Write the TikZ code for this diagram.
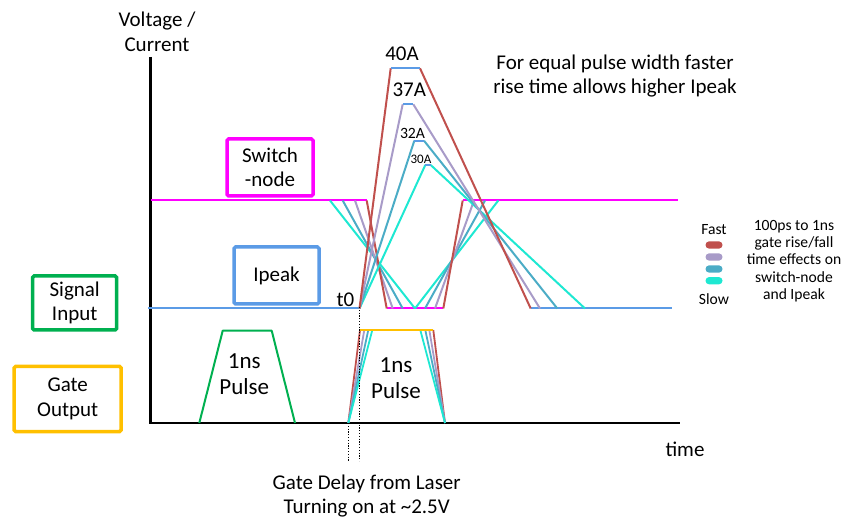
\documentclass[tikz,border=0pt]{standalone}
\usepackage{fontspec}
\setmainfont{Carlito}
\definecolor{cred}{HTML}{C0504D}
\definecolor{cpurp}{HTML}{A89BC8}
\definecolor{csteel}{HTML}{4BACC6}
\definecolor{ccyan}{HTML}{1EE8D2}
\definecolor{cmag}{HTML}{FF00FF}
\definecolor{cblue}{HTML}{5B9BE6}
\definecolor{cgreen}{HTML}{00B050}
\definecolor{corange}{HTML}{FFC000}
\tikzset{
  wave/.style={line width=2pt, line join=round},
  gwave/.style={line width=1.8pt, line join=round},
  axisline/.style={line width=2.2pt, black},
  lbl/.style={font=\fontsize{21}{24.5}\selectfont, align=center, inner sep=0pt},
  biglbl/.style={font=\fontsize{23}{26}\selectfont, align=center, inner sep=0pt},
  smlbl/.style={font=\fontsize{15.6}{17.4}\selectfont, align=center, inner sep=0pt},
  tagbox/.style={draw, line width=3.5pt, rounded corners=1.5pt, font=\fontsize{21}{24.5}\selectfont, align=center, inner sep=0pt, fill=white},
  pill/.style={fill, rounded corners=3.6pt, minimum width=17pt, minimum height=7.3pt, inner sep=0pt},
  delayline/.style={line width=1pt, dash pattern=on 1.2pt off 1.6pt}
}
\begin{document}
\begin{tikzpicture}[x=1pt,y=-1pt]
\useasboundingbox (0,0) rectangle (843,518);

% axes
\coordinate (ytop) at (150.5,57);
\coordinate (orig) at (150.5,423);
\coordinate (xend) at (680,423);
\draw[axisline] (ytop) -- (orig) -- (xend);

% key points
\coordinate (t0pt) at (359.5,308.5);
\coordinate (gbl) at (348.3,423);
\coordinate (gbr) at (445,423);

% signal input pulse (green)
\draw[wave,cgreen] (199.3,423) -- (222.7,330.7) -- (271.7,330.7) -- (295,423);

% switch-node waveform (magenta)
\draw[wave,cmag] (150.5,200.5) -- (366.7,200.5);
\draw[wave,cmag] (386.7,308.5) -- (443.3,308.5);
\draw[wave,cmag] (462.7,200.5) -- (677.7,200.5);

% Ipeak baseline (blue)
\draw[wave,cblue] (148,308.5) -- (t0pt);
\draw[wave,cblue] (530.7,308.5) -- (672.3,308.5);

% switch-node transitions
\foreach \c/\fa/\fb/\ra/\rb in {ccyan/330/415/415/498.3, csteel/342.7/402.7/425/485, cpurp/355/392.7/435/474, cred/366.7/386.7/443.3/462.7}{
  \draw[wave,\c] (\fa,200.5) -- (\fb,308.5);
  \draw[wave,\c] (\ra,308.5) -- (\rb,200.5);
}

% current traces
\foreach \c/\pa/\pb/\py/\pe in {ccyan/425.3/430.7/165/585, csteel/414.3/424/140.7/557.3, cpurp/402.7/413.3/104.3/540, cred/390.7/420/68.3/530.7}{
  \draw[wave,\c] (t0pt) -- (\pa,\py);
  \draw[wave,\c] (\pb,\py) -- (\pe,308.5);
}
\foreach \pa/\pb/\py in {425.3/430.7/165, 414.3/424/140.7, 402.7/413.3/104.3, 390.7/420/68.3}{
  \draw[wave,cblue] (\pa,\py) -- (\pb,\py);
}

% gate output pulse
\foreach \c/\lt/\rt in {cred/360/433.3, cpurp/364.3/429.3, csteel/368.3/425.3, ccyan/372.3/420.3}{
  \draw[gwave,\c] (gbl) -- (\lt,330);
  \draw[gwave,\c] (\rt,330) -- (gbr);
}
\draw[line width=2.4pt,corange] (360,330) -- (433.3,330);

% gate delay markers
\coordinate (d1) at (348.3,461);
\coordinate (d2) at (359.5,461);
\draw[delayline] (gbl) -- (d1);
\draw[delayline] ([yshift=1.5pt]t0pt) -- (d2);

% labels
\node[lbl] (vc) at (157,32) {Voltage /\\Current};
\node[tagbox, draw=cmag, minimum width=86pt, minimum height=57pt] (sw) at (270,167.5) {Switch\\-node};
\node[tagbox, draw=cblue, minimum width=85pt, minimum height=57pt] (ip) at (276.5,275.5) {Ipeak};
\node[tagbox, draw=cgreen, minimum width=84pt, minimum height=54pt] (si) at (74.7,303) {Signal\\Input};
\node[tagbox, draw=corange, minimum width=107pt, minimum height=65pt] (go) at (67.7,399) {Gate\\Output};

\node[biglbl] (p1) at (244.3,374) {1ns\\Pulse};
\node[biglbl] (p2) at (396,378) {1ns\\Pulse};
\node[lbl] (t0) at (345.5,300) {t0};

\node[lbl] (l40) at (402,54) {40A};
\node[lbl] (l37) at (409.3,90) {37A};
\node[font=\fontsize{15.7}{17}\selectfont, inner sep=0pt] (l32) at (412.5,133.5) {32A};
\node[font=\fontsize{13}{15}\selectfont, inner sep=0pt] (l30) at (421,159.5) {30A};

\node[lbl] (ft) at (615,76) {For equal pulse width faster\\rise time allows higher Ipeak};
\node[lbl] (tm) at (685,449) {time};
\node[lbl] (gd) at (366.7,496) {Gate Delay from Laser\\Turning on at \textasciitilde2.5V};

% legend
\node[smlbl] (fast) at (714,230) {Fast};
\node[pill, cred] (k1) at (714,245) {};
\node[pill, cpurp] (k2) at (714,257) {};
\node[pill, csteel] (k3) at (714,269) {};
\node[pill, ccyan] (k4) at (714,280.7) {};
\node[smlbl] (slow) at (714,299) {Slow};
\node[smlbl] (lg) at (794,261) {100ps to 1ns\\gate rise/fall\\time effects on\\switch-node\\and Ipeak};
\end{tikzpicture}
\end{document}
